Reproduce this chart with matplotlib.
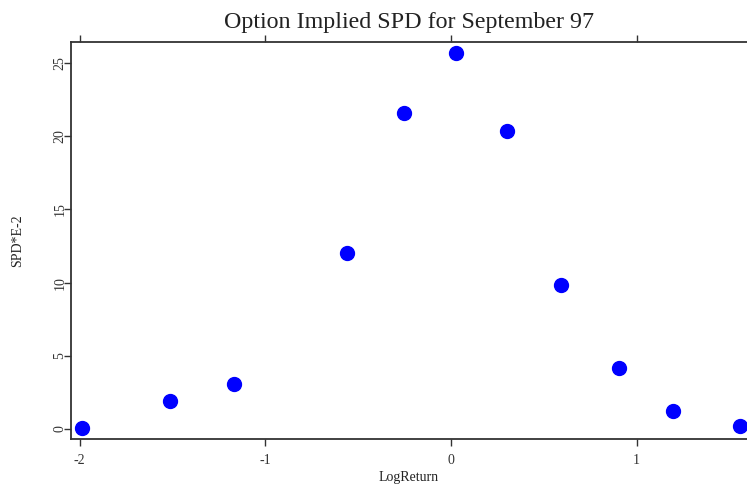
import matplotlib
matplotlib.use("Agg")
import matplotlib.pyplot as plt

# values
log_return = [-1.987, -1.513, -1.168, -0.560, -0.253, 0.027, 0.302, 0.592, 0.905, 1.195, 1.556]
spd = [0.07, 1.91, 3.07, 12.02, 21.58, 25.68, 20.35, 9.84, 4.17, 1.23, 0.20]
x_ticks = [-2, -1, 0, 1]
y_ticks = [0, 5, 10, 15, 20, 25]

plt.rcParams['font.family'] = ['Liberation Serif', 'DejaVu Serif']

fig = plt.figure(figsize=(7.47, 4.86), dpi=100)
ax = fig.add_axes([0.095, 0.0967, 0.905, 0.8169])

ax.plot(log_return, spd, 'o', color='#0000ff', markersize=10, clip_on=False)

ax.set_xlim(-2.046, 1.594)
ax.set_ylim(-0.68, 26.43)
ax.set_xticks(x_ticks)
ax.set_xticklabels([str(t) for t in x_ticks])
ax.set_yticks(y_ticks)
ax.set_yticklabels([str(t) for t in y_ticks], rotation=90, va='center', ha='center')

ax.spines['right'].set_visible(False)
for s in ['left', 'top', 'bottom']:
    ax.spines[s].set_color('#333333')
    ax.spines[s].set_linewidth(1.3)
ax.tick_params(axis='x', top=True, direction='out', length=5, width=1, colors='#333333', labelsize=10, pad=6)
ax.tick_params(axis='y', direction='out', length=5, width=1, colors='#333333', labelsize=10, pad=3)

ax.set_xlabel('LogReturn', fontsize=10, labelpad=3, color='#222222')
ax.set_ylabel('SPD*E-2', fontsize=10, labelpad=21, color='#222222')
ax.set_title('Option Implied SPD for September 97', fontsize=17.3, pad=10, color='#222222')

fig.savefig('out.png', dpi=100)
